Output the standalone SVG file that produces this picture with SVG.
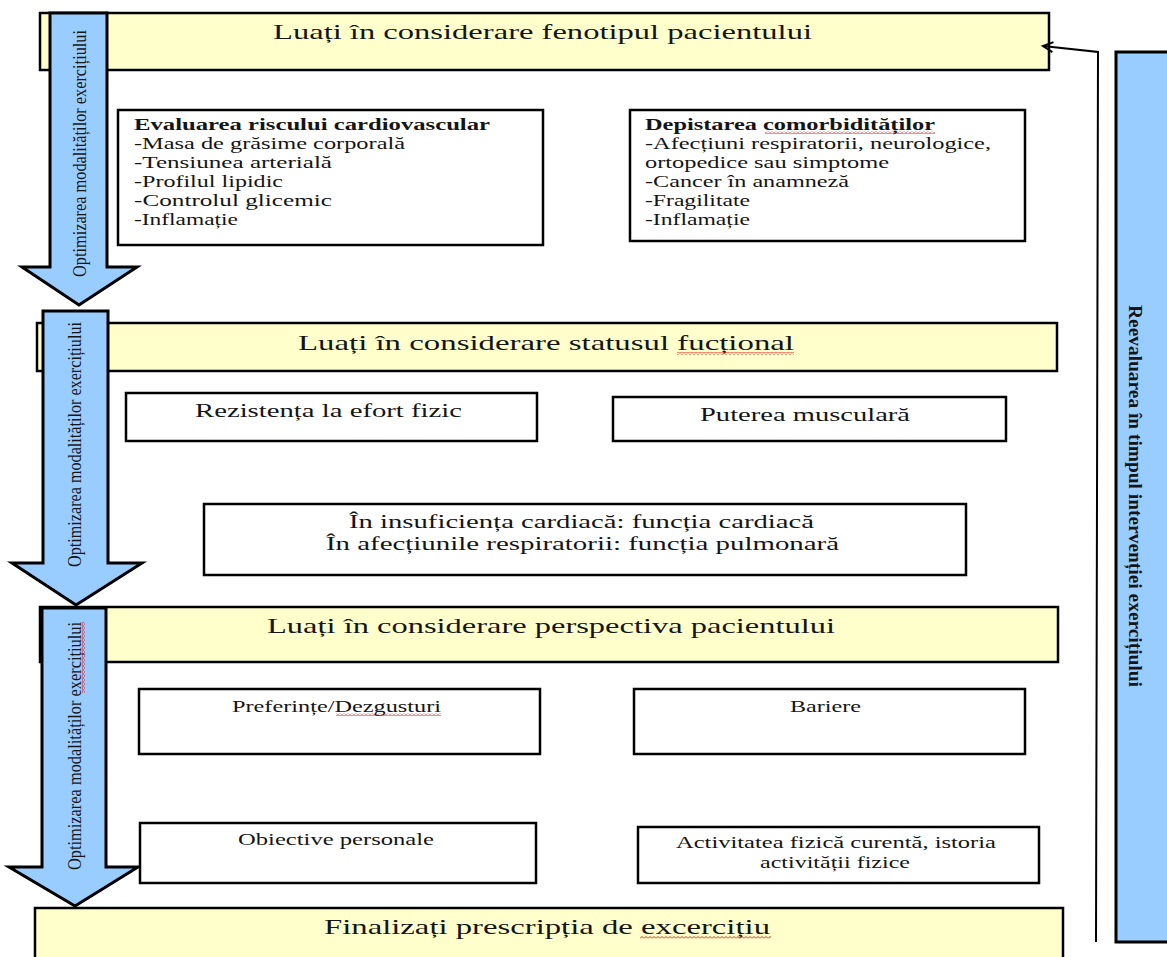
<svg xmlns="http://www.w3.org/2000/svg" width="1167" height="957" viewBox="0 0 1167 957">
<style>
.hdr{fill:#FFFFCC;stroke:#000;stroke-width:2.5}
.box{fill:#fff;stroke:#000;stroke-width:2.5}
.arr{fill:#99CCFF;stroke:#000;stroke-width:3;stroke-linejoin:miter}
.bar{fill:#99CCFF;stroke:#000;stroke-width:3}
text{font-family:"Liberation Serif","Times New Roman",serif;fill:#151515}
.h{font-size:22px}
.b{font-size:16px}
.bb{font-size:16px;font-weight:bold}
.m{font-size:19px}
.s{font-size:17px}
.v{font-size:19px}
.vb{font-size:18px;font-weight:bold}
.sq{fill:url(#sqh)}
.sqv{fill:url(#sqv)}
</style>
<defs>
<pattern id="sqh" width="4" height="3" patternUnits="userSpaceOnUse"><path d="M0,2.5 L2,0.5 L4,2.5" fill="none" stroke="#e00" stroke-width="0.9"/></pattern>
<pattern id="sqv" width="3" height="4" patternUnits="userSpaceOnUse"><path d="M0.5,0 L2.5,2 L0.5,4" fill="none" stroke="#e00" stroke-width="0.9"/></pattern>
<marker id="open" markerWidth="14" markerHeight="14" refX="11" refY="6" orient="auto" markerUnits="userSpaceOnUse"><path d="M1,1 L11,6 L1,11" fill="none" stroke="#000" stroke-width="2"/></marker>
</defs>
<rect width="1167" height="957" fill="#fff"/>

<g id="header1">
<rect class="hdr" x="40" y="13" width="1009" height="57"/>
<text class="h" x="273" y="39" textLength="539" lengthAdjust="spacingAndGlyphs">Luați în considerare fenotipul pacientului</text>
</g>

<g id="header2">
<rect class="hdr" x="37" y="323" width="1020" height="48"/>
<text class="h" x="298" y="350" textLength="496" lengthAdjust="spacingAndGlyphs">Luați în considerare statusul fucțional</text>
<rect class="sq" x="677" y="352" width="117" height="3"/>
</g>

<g id="header3">
<rect class="hdr" x="40" y="607" width="1018" height="55"/>
<text class="h" x="267" y="633" textLength="568" lengthAdjust="spacingAndGlyphs">Luați în considerare perspectiva pacientului</text>
</g>

<g id="header4">
<rect class="hdr" x="35" y="908" width="1028" height="62"/>
<text class="h" x="324" y="934" textLength="446" lengthAdjust="spacingAndGlyphs">Finalizați prescripția de excercițiu</text>
<rect class="sq" x="640" y="936" width="131" height="3"/>
</g>

<g id="arrow1">
<polygon class="arr" points="50,13 107,13 107,267 137,267 79,305 22,267 50,267"/>
<text class="v" transform="translate(86,277) rotate(-90)" textLength="247" lengthAdjust="spacingAndGlyphs">Optimizarea modalităților exercițiului</text>
</g>

<g id="arrow2">
<polygon class="arr" points="43,311 108,311 108,563 142,563 76,605 12,563 43,563"/>
<text class="v" transform="translate(81,567) rotate(-90)" textLength="245" lengthAdjust="spacingAndGlyphs">Optimizarea modalităților exercițiului</text>
</g>

<g id="arrow3">
<polygon class="arr" points="42,608 106,608 106,867 138,867 75,906 9,867 42,867"/>
<text class="v" transform="translate(81,870) rotate(-90)" textLength="248" lengthAdjust="spacingAndGlyphs">Optimizarea modalităților exercițiului</text>
<rect class="sqv" x="82" y="622" width="3" height="71"/>
</g>

<g id="evaluarea">
<rect class="box" x="118" y="110" width="425" height="135"/>
<text class="bb" x="134" y="130" textLength="356" lengthAdjust="spacingAndGlyphs">Evaluarea riscului cardiovascular</text>
<text class="b" x="134" y="149" textLength="271" lengthAdjust="spacingAndGlyphs">-Masa de grăsime corporală</text>
<text class="b" x="134" y="168" textLength="198" lengthAdjust="spacingAndGlyphs">-Tensiunea arterială</text>
<text class="b" x="134" y="187" textLength="149" lengthAdjust="spacingAndGlyphs">-Profilul lipidic</text>
<text class="b" x="134" y="206" textLength="198" lengthAdjust="spacingAndGlyphs">-Controlul glicemic</text>
<text class="b" x="134" y="225" textLength="104" lengthAdjust="spacingAndGlyphs">-Inflamație</text>
</g>

<g id="depistarea">
<rect class="box" x="630" y="110" width="395" height="131"/>
<text class="bb" x="645" y="130" textLength="290" lengthAdjust="spacingAndGlyphs">Depistarea comorbidităților</text>
<rect class="sq" x="765" y="131" width="170" height="3"/>
<text class="b" x="645" y="149" textLength="346" lengthAdjust="spacingAndGlyphs">-Afecțiuni respiratorii, neurologice,</text>
<text class="b" x="645" y="168" textLength="244" lengthAdjust="spacingAndGlyphs">ortopedice sau simptome</text>
<text class="b" x="645" y="187" textLength="204" lengthAdjust="spacingAndGlyphs">-Cancer în anamneză</text>
<text class="b" x="645" y="206" textLength="105" lengthAdjust="spacingAndGlyphs">-Fragilitate</text>
<text class="b" x="645" y="225" textLength="105" lengthAdjust="spacingAndGlyphs">-Inflamație</text>
</g>

<g id="rezistenta">
<rect class="box" x="126" y="393" width="411" height="48"/>
<text class="m" x="195" y="417" textLength="267" lengthAdjust="spacingAndGlyphs">Rezistența la efort fizic</text>
</g>

<g id="puterea">
<rect class="box" x="613" y="397" width="393" height="44"/>
<text class="m" x="700" y="421" textLength="210" lengthAdjust="spacingAndGlyphs">Puterea musculară</text>
</g>

<g id="functia">
<rect class="box" x="204" y="504" width="762" height="71"/>
<text class="m" x="349" y="528" textLength="465" lengthAdjust="spacingAndGlyphs">În insuficiența cardiacă: funcția cardiacă</text>
<text class="m" x="326" y="550" textLength="513" lengthAdjust="spacingAndGlyphs">În afecțiunile respiratorii: funcția pulmonară</text>
</g>

<g id="preferinte">
<rect class="box" x="139" y="689" width="401" height="65"/>
<text class="s" x="232" y="712" textLength="209" lengthAdjust="spacingAndGlyphs">Preferințe/Dezgusturi</text>
<rect class="sq" x="336" y="713" width="105" height="3"/>
</g>

<g id="bariere">
<rect class="box" x="634" y="689" width="391" height="65"/>
<text class="s" x="790" y="712" textLength="71" lengthAdjust="spacingAndGlyphs">Bariere</text>
</g>

<g id="obiective">
<rect class="box" x="140" y="823" width="396" height="60"/>
<text class="s" x="238" y="845" textLength="196" lengthAdjust="spacingAndGlyphs">Obiective personale</text>
</g>

<g id="activitatea">
<rect class="box" x="638" y="827" width="401" height="56"/>
<text class="s" x="676" y="848" textLength="320" lengthAdjust="spacingAndGlyphs">Activitatea fizică curentă, istoria</text>
<text class="s" x="760" y="868" textLength="150" lengthAdjust="spacingAndGlyphs">activității fizice</text>
</g>

<g id="reevaluarea">
<rect class="bar" x="1116" y="52" width="60" height="890"/>
<text class="vb" transform="translate(1129,305) rotate(90)" textLength="382" lengthAdjust="spacingAndGlyphs">Reevaluarea în timpul intervenției exercițiului</text>
</g>

<g id="connectors">
<polyline points="1096,942 1098,52 1043,46" fill="none" stroke="#000" stroke-width="2" marker-end="url(#open)"/>
</g>
</svg>
